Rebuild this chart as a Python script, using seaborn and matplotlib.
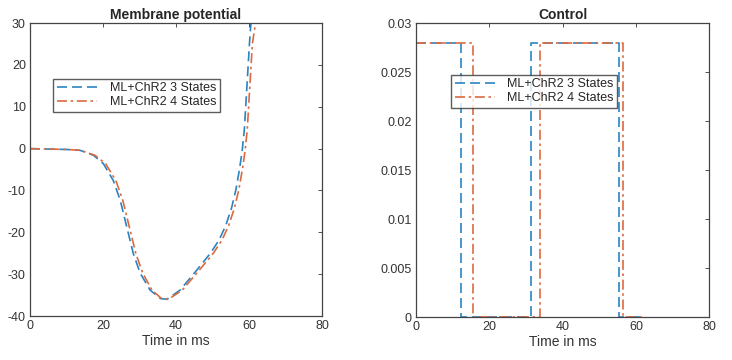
import seaborn as sns
import matplotlib.pyplot as plt
import pandas as pd

# membrane potential (mV) vs time (ms)
t_v3 = [0, 5, 10, 13.7, 17.4, 20.1, 22.8, 24.7, 26.5, 28.3, 30.2, 32.9, 35.7, 37.5, 41.1,
        45.7, 49.5, 51.8, 53.6, 55.2, 56.4, 57.4, 58.1, 58.7, 59.4, 60.1, 60.6]
v3 = [0, -0.1, -0.2, -0.4, -1.6, -3.6, -7.6, -12.3, -18.7, -25.1, -29.8, -33.8, -35.8, -36.0, -33.8,
      -29.0, -24.9, -21.8, -18.4, -14.2, -9.8, -4.8, -0.6, 4.5, 14.7, 25.0, 31.0]
t_v4 = [0, 5, 10, 13.9, 17.8, 20.7, 23.5, 25.4, 27.2, 29.0, 30.9, 33.4, 36.0, 37.9, 41.7,
        46.4, 50.3, 52.6, 54.4, 56.0, 57.2, 58.2, 58.9, 59.5, 60.2, 60.9, 61.6]
v4 = [0, -0.1, -0.2, -0.4, -1.6, -3.6, -7.6, -12.3, -18.7, -25.1, -29.8, -33.8, -35.8, -36.0, -33.8,
      -29.0, -24.9, -21.8, -18.4, -14.2, -9.8, -4.8, -0.6, 4.5, 14.7, 25.0, 29.0]

# control input (step signal)
t_u3 = [0, 12.3, 31.5, 55.3, 62]
u3 = [0.028, 0, 0.028, 0, 0]
t_u4 = [0, 15.7, 33.8, 56.6, 62]
u4 = [0.028, 0, 0.028, 0, 0]

labels = ["ML+ChR2 3 States", "ML+ChR2 4 States"]
c3 = "#2a84c2"
c4 = "#dd6a3f"
ls3 = (0, (6, 3))
ls4 = (0, (6, 2.2, 1.5, 2.2))

sns.set_style("white")
plt.rcParams['font.family'] = ['Liberation Sans', 'DejaVu Sans']
plt.rcParams['axes.unicode_minus'] = False

fig = plt.figure(figsize=(7.32, 3.6), dpi=100)
ax1 = fig.add_axes([0.041, 0.122, 0.399, 0.814])
ax2 = fig.add_axes([0.568, 0.119, 0.401, 0.817])

df_v3 = pd.DataFrame({"t": t_v3, "v": v3})
df_v4 = pd.DataFrame({"t": t_v4, "v": v4})
sns.lineplot(data=df_v3, x="t", y="v", ax=ax1, color=c3, linestyle=ls3, lw=1.2, label=labels[0])
sns.lineplot(data=df_v4, x="t", y="v", ax=ax1, color=c4, linestyle=ls4, lw=1.2, label=labels[1])
ax1.set_xlim(0, 80)
ax1.set_ylim(-40, 30)
ax1.set_yticks(range(-40, 31, 10))
ax1.set_title("Membrane potential", fontsize=10, fontweight="bold", pad=3)

df_u3 = pd.DataFrame({"t": t_u3, "u": u3})
df_u4 = pd.DataFrame({"t": t_u4, "u": u4})
sns.lineplot(data=df_u3, x="t", y="u", ax=ax2, color=c3, linestyle=ls3, lw=1.2,
             drawstyle="steps-post", label=labels[0])
sns.lineplot(data=df_u4, x="t", y="u", ax=ax2, color=c4, linestyle=ls4, lw=1.2,
             drawstyle="steps-post", label=labels[1])
ax2.set_xlim(0, 80)
ax2.set_ylim(0, 0.03)
ax2.set_yticks([0, 0.005, 0.01, 0.015, 0.02, 0.025, 0.03])
ax2.set_yticklabels(["0", "0.005", "0.01", "0.015", "0.02", "0.025", "0.03"])
ax2.set_title("Control", fontsize=10, fontweight="bold", pad=3)

for ax in (ax1, ax2):
    ax.set_xticks(range(0, 81, 20))
    ax.set_xlabel("Time in ms", fontsize=10, color="#333333", labelpad=1)
    ax.set_ylabel("")
    ax.tick_params(direction="in", length=3, width=0.6, top=True, right=True,
                   labelsize=9, colors="#333333", pad=3)
    for s in ax.spines.values():
        s.set_color("#444444")
        s.set_linewidth(0.9)

leg1 = ax1.legend(loc="upper left", bbox_to_anchor=(0.08, 0.81), fontsize=9, frameon=True,
                  fancybox=False, edgecolor="#333333", handlelength=3.2, borderpad=0.3,
                  labelspacing=0.15, handletextpad=1.0, borderaxespad=0)
leg2 = ax2.legend(loc="upper left", bbox_to_anchor=(0.12, 0.825), fontsize=9, frameon=True,
                  fancybox=False, edgecolor="#333333", handlelength=3.2, borderpad=0.3,
                  labelspacing=0.15, handletextpad=1.0, borderaxespad=0)
for leg in (leg1, leg2):
    leg.get_frame().set_linewidth(1.0)

fig.savefig("out.png", dpi=100)
